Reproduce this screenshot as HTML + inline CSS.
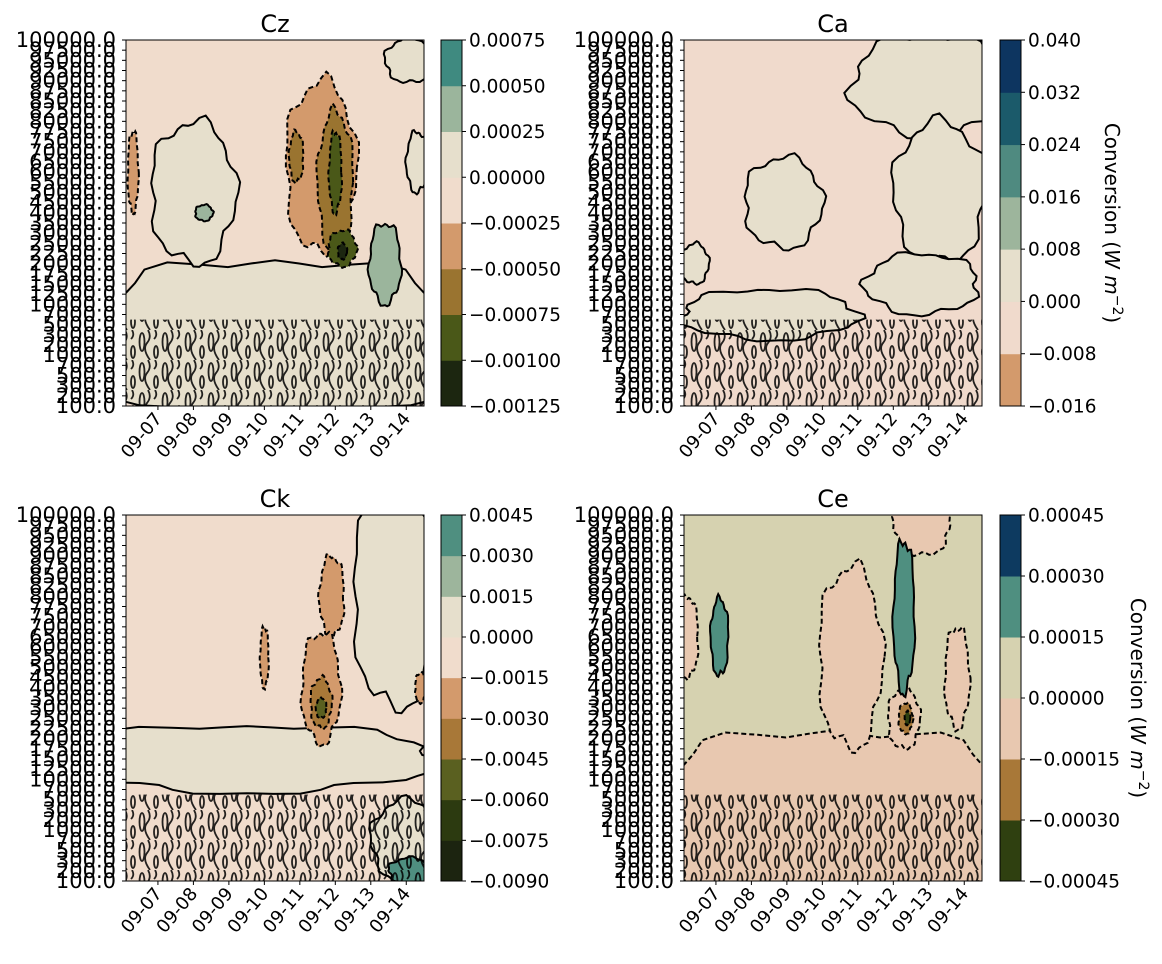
<!DOCTYPE html>
<html><head><meta charset="utf-8">
<style>
html,body{margin:0;padding:0;background:#fff;width:1162px;height:964px;overflow:hidden}
svg{display:block;font-family:"DejaVu Sans","Liberation Sans",sans-serif}
</style></head>
<body>
<svg id="fig" width="1162" height="964" viewBox="0 0 1162 964" xmlns="http://www.w3.org/2000/svg">
<defs>
<pattern id="tex" width="23" height="30" patternUnits="userSpaceOnUse">
<ellipse cx="4" cy="12" rx="2.5" ry="9" fill="none" stroke="#000" stroke-width="1.8"/>
<path d="M10 0 Q14 7 9 13 T12 30" fill="none" stroke="#000" stroke-width="1.8"/>
<ellipse cx="18" cy="22" rx="2" ry="6" fill="none" stroke="#000" stroke-width="1.8"/>
<path d="M17 0 Q20 5 16 9" fill="none" stroke="#000" stroke-width="1.8"/>
</pattern>
</defs>
</svg>
<script>
const levelLabels=["100000.0","97500.0","95000.0","92500.0","90000.0","87500.0","85000.0","82500.0","80000.0","77500.0","75000.0","70000.0","65000.0","60000.0","55000.0","50000.0","45000.0","40000.0","35000.0","30000.0","25000.0","22500.0","20000.0","17500.0","15000.0","12500.0","10000.0","7000.0","5000.0","3000.0","2000.0","1000.0","700.0","500.0","300.0","200.0","100.0"];
const dateLabels=["09-07","09-08","09-09","09-10","09-11","09-12","09-13","09-14"];
const dayMin=-0.9, dayMax=7.5;

const czBounds=[-0.00125,-0.001,-0.00075,-0.0005,-0.00025,0,0.00025,0.0005,0.00075];
const czTicks=["\u22120.00125","\u22120.00100","\u22120.00075","\u22120.00050","\u22120.00025","0.00000","0.00025","0.00050","0.00075"];
const czColors=["#1c2610","#4a5818","#9a7430","#d39a6c","#f0dccc","#e6dfcc","#9bb59c","#3f8a80"];
const caBounds=[-0.016,-0.008,0,0.008,0.016,0.024,0.032,0.040];
const caTicks=["\u22120.016","\u22120.008","0.000","0.008","0.016","0.024","0.032","0.040"];
const caColors=["#d39a6c","#f0dacc","#e6dfcc","#9db59c","#4f8a80","#1b5a6a","#0d3560"];
const ckBounds=[-0.009,-0.0075,-0.006,-0.0045,-0.003,-0.0015,0,0.0015,0.003,0.0045];
const ckTicks=["\u22120.0090","\u22120.0075","\u22120.0060","\u22120.0045","\u22120.0030","\u22120.0015","0.0000","0.0015","0.0030","0.0045"];
const ckColors=["#1c2410","#2c3a10","#5a6020","#a87838","#d39a6c","#f0dccc","#e6dfcc","#9db59c","#4f8f80"];
const ceBounds=[-0.00045,-0.0003,-0.00015,0,0.00015,0.0003,0.00045];
const ceTicks=["\u22120.00045","\u22120.00030","\u22120.00015","0.00000","0.00015","0.00030","0.00045"];
const ceColors=["#2f4010","#a87838","#e8c8b0","#d6d2b0","#4f8f80","#0d3a60"];

// features: [day, levelIndex, halfWidthDays, halfHeightLevels, value]
const czBackground=-0.0001;
const czBlobs=[[3.3,30,5.5,8.5,0.0001],[1.0,15,1.2,7,0.0001],[7.1,2,0.7,2.2,0.0001],[7.3,12,0.3,3,0.0001],[-0.7,13,0.15,4,-0.0003],
[4.6,12.5,1.0,8.5,-0.0003],[5.0,14,0.5,7,-0.0006],[5.0,13,0.18,4,-0.0009],[5.2,20.5,0.4,1.8,-0.0009],[5.2,20.8,0.13,0.8,-0.0011],[3.9,11.5,0.2,2.5,-0.0006],
[6.4,22,0.45,4,0.0003],[1.3,17,0.25,0.8,0.0003]];
const caBackground=-0.004;
const caBlobs=[[6.0,4.5,2.2,5,0.004],[1.9,16,1.1,4.5,0.004],[6.3,15,1.3,7,0.004],[5.8,24,1.6,3,0.004],[1.5,27,2.5,2.5,0.004],[-0.6,22,0.4,2,0.004]];
const ckBackground=-0.0007;
const ckBlobs=[[2.5,24,5.5,3.3,0.0007],[6.7,8,1.2,11,0.0007],[7.0,32,1.0,4,0.0007],
[4.9,8,0.35,4,-0.002],[4.6,17,0.55,5.5,-0.002],[4.6,18.5,0.3,2.5,-0.0035],[4.6,19,0.15,1,-0.005],[3.0,14,0.12,3,-0.002],[7.4,17,0.15,1.5,-0.002],
[7.1,35,0.6,1.3,0.0032]];
const ceBackground=0.00007;
const ceBlobs=[[3.3,30,5.5,9,-0.0001],[3.8,14,0.9,9,-0.0001],[5.8,1,0.8,3,-0.0001],[-0.8,12,0.3,4,-0.0001],[6.8,16,0.35,5,-0.0001],[5.3,20,0.45,3,-0.0001],
[0.1,12,0.25,3.8,0.0002],[5.3,10,0.3,7.5,0.0002],[5.35,20,0.2,1.5,-0.0002],[5.4,20,0.08,0.7,-0.0004]];

const NS="http://www.w3.org/2000/svg";
const fig=document.getElementById('fig');
function mk(tag,attrs,parent){const e=document.createElementNS(NS,tag);for(const k in attrs)e.setAttribute(k,attrs[k]);(parent||fig).appendChild(e);return e;}
function colorFor(v,bounds,colors){for(let i=0;i<colors.length;i++){if(v>=bounds[i]&&v<bounds[i+1])return colors[i];}return v<bounds[0]?colors[0]:colors[colors.length-1];}
function blobPath(cx,cy,rx,ry,seed){
  let d='';const N=48;
  for(let k=0;k<=N;k++){const t=k/N*2*Math.PI;
    const m=1+0.07*Math.sin(5*t+seed)+0.05*Math.sin(11*t+2*seed);
    const x=cx+rx*m*Math.cos(t), y=cy+ry*m*Math.sin(t);
    d+=(k?'L':'M')+x.toFixed(1)+' '+y.toFixed(1);}
  return d+'Z';
}
function panel(o){
  const g=mk('g',{});
  
  
  const X=d=>o.x0+(d-dayMin)/(dayMax-dayMin)*o.w;
  const Y=i=>o.y0+i/(levelLabels.length-1)*o.h;
  const clipId='clip-'+o.name;
  const cp=mk('clipPath',{id:clipId},g);mk('rect',{x:o.x0,y:o.y0,width:o.w,height:o.h},cp);
  const plot=mk('g',{'clip-path':'url(#'+clipId+')'},g);
  
  
  mk('rect',{x:o.x0,y:o.y0,width:o.w,height:o.h,fill:colorFor(o.bg,o.bounds,o.colors)},plot);
  o.blobs.forEach((b,j)=>{
    const cx=X(b[0]),cy=Y(b[1]),hw=b[2]/(dayMax-dayMin)*o.w,hh=b[3]/(levelLabels.length-1)*o.h;
    const r=mk('path',{d:blobPath(cx,cy,hw,hh,j*1.7),fill:colorFor(b[4],o.bounds,o.colors),stroke:'#000','stroke-width':2,'stroke-dasharray':(b[4]<0&&b[4]<o.bg)?'5,3':'none'},plot);
    
    
  });
  const t=mk('rect',{x:o.x0,y:Y(27.5),width:o.w,height:o.h-(Y(27.5)-o.y0),fill:'url(#tex)',opacity:0.85},plot);
  
  
  mk('rect',{x:o.x0,y:o.y0,width:o.w,height:o.h,fill:'none',stroke:'#000','stroke-width':1},g);
  levelLabels.forEach((l,i)=>{
    const y=Y(i);
    mk('line',{x1:o.x0-4,x2:o.x0,y1:y,y2:y,stroke:'#000','stroke-width':1},g);
    const tx=mk('text',{x:o.x0-10,y:y+7,'font-size':21,'text-anchor':'end'},g);tx.textContent=l;
    
    
  });
  dateLabels.forEach((l,i)=>{
    const x=X(i);
    mk('line',{x1:x,x2:x,y1:o.y0+o.h,y2:o.y0+o.h+4,stroke:'#000','stroke-width':1},g);
    const tx=mk('text',{x:x+5,y:o.y0+o.h+13,'font-size':18,'text-anchor':'end',transform:`rotate(-50 ${x+5} ${o.y0+o.h+13})`},g);tx.textContent=l;
    
    
  });
  const title=mk('text',{x:o.x0+o.w/2,y:o.y0-8,'font-size':24,'text-anchor':'middle'},g);title.textContent=o.title;
  
  
  const cb=mk('g',{},g);
  
  
  const n=o.colors.length, cx=o.cbx, cw=21;
  const cy=v=>o.y0+o.h-(v-o.bounds[0])/(o.bounds[n]-o.bounds[0])*o.h;
  o.colors.forEach((c,i)=>{mk('rect',{x:cx,y:cy(o.bounds[i+1]),width:cw,height:cy(o.bounds[i])-cy(o.bounds[i+1])+0.5,fill:c},cb);});
  mk('rect',{x:cx,y:o.y0,width:cw,height:o.h,fill:'none',stroke:'#000','stroke-width':1},cb);
  o.ticks.forEach((l,i)=>{
    const y=cy(o.bounds[i]);
    mk('line',{x1:cx+cw,x2:cx+cw+4,y1:y,y2:y,stroke:'#000'},cb);
    const tx=mk('text',{x:cx+cw+7,y:y+6.5,'font-size':18.5},cb);tx.textContent=l;
    
    
  });
  if(o.label){
    const lx=o.labelX,ly=o.y0+o.h/2;
    const tx=mk('text',{x:lx,y:ly,'font-size':20,'text-anchor':'middle',transform:`rotate(90 ${lx} ${ly})`},cb);
    tx.innerHTML='Conversion  (<tspan font-style="italic">W m</tspan><tspan font-size="14" dy="-8">\u22122</tspan><tspan dy="8">)</tspan>';
    
    
  }
}
panel({name:'cz',title:'Cz',x0:126,y0:40,w:298,h:366,cbx:441,bounds:czBounds,colors:czColors,ticks:czTicks,bg:czBackground,blobs:czBlobs});
panel({name:'ca',title:'Ca',x0:684,y0:40,w:298,h:366,cbx:1000,bounds:caBounds,colors:caColors,ticks:caTicks,bg:caBackground,blobs:caBlobs,label:true,labelX:1105});
panel({name:'ck',title:'Ck',x0:126,y0:515,w:298,h:366,cbx:441,bounds:ckBounds,colors:ckColors,ticks:ckTicks,bg:ckBackground,blobs:ckBlobs});
panel({name:'ce',title:'Ce',x0:684,y0:515,w:298,h:366,cbx:1000,bounds:ceBounds,colors:ceColors,ticks:ceTicks,bg:ceBackground,blobs:ceBlobs,label:true,labelX:1131});
</script>
</body></html>
